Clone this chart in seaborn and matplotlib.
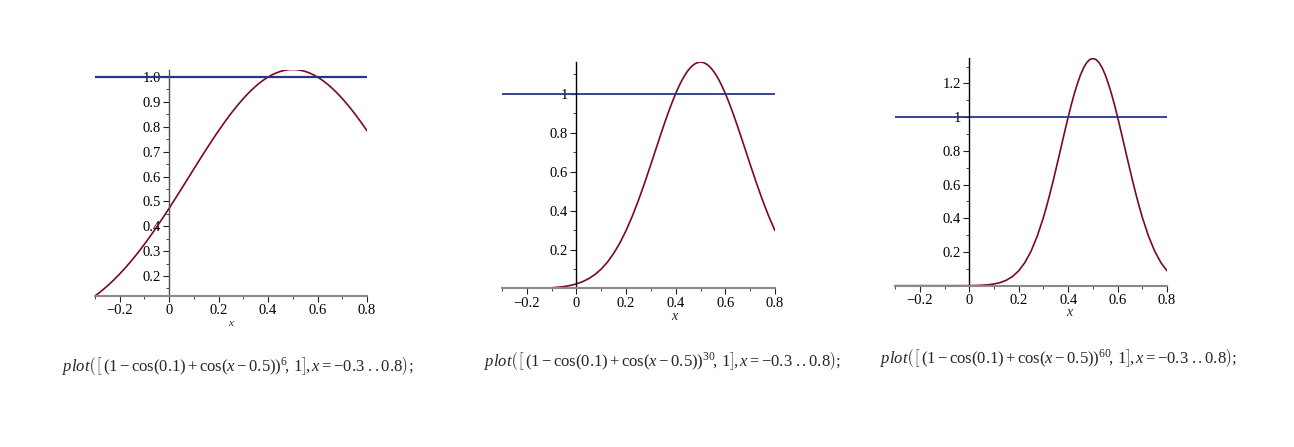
import numpy as np
import matplotlib
matplotlib.use("Agg")
import matplotlib.pyplot as plt
from matplotlib.ticker import FixedLocator, MultipleLocator, FuncFormatter
import seaborn as sns
import pandas as pd

# sample points of the three curves (x = -0.3 .. 0.8),
# denser around the peak
x = [-0.3, -0.275, -0.25, -0.225, -0.2, -0.175, -0.15, -0.125, -0.1, -0.075,
     -0.05, -0.025, 0.0, 0.025, 0.05, 0.075, 0.1, 0.125, 0.15, 0.175,
     0.2, 0.225, 0.25, 0.275, 0.3,
     0.3125, 0.325, 0.3375, 0.35, 0.3625, 0.375, 0.3875, 0.4, 0.4125, 0.425,
     0.4375, 0.45, 0.4625, 0.475, 0.4875, 0.5, 0.5125, 0.525, 0.5375, 0.55,
     0.5625, 0.575, 0.5875, 0.6, 0.6125, 0.625, 0.6375, 0.65, 0.6625, 0.675,
     0.6875,
     0.7, 0.725, 0.75, 0.775, 0.8]

pow6 = [0.1194, 0.1386, 0.1598, 0.1830, 0.2082, 0.2353, 0.2643, 0.2951, 0.3277, 0.3619,
        0.3976, 0.4346, 0.4726, 0.5115, 0.5510, 0.5908, 0.6307, 0.6703, 0.7093, 0.7475,
        0.7844, 0.8198, 0.8533, 0.8847, 0.9137,
        0.9271, 0.9399, 0.9519, 0.9632, 0.9736, 0.9833, 0.9921, 1.0, 1.0070, 1.0132,
        1.0184, 1.0227, 1.0260, 1.0284, 1.0299, 1.0304, 1.0299, 1.0284, 1.0260, 1.0227,
        1.0184, 1.0132, 1.0070, 1.0, 0.9921, 0.9833, 0.9736, 0.9632, 0.9519, 0.9399,
        0.9271,
        0.9137, 0.8847, 0.8533, 0.8198, 0.7844]

pow30 = [0.00002, 0.00005, 0.0001, 0.0002, 0.0004, 0.0007, 0.0013, 0.0022, 0.0038, 0.0062,
         0.0099, 0.0155, 0.0236, 0.0350, 0.0508, 0.0720, 0.0998, 0.1353, 0.1796, 0.2333,
         0.2969, 0.3702, 0.4524, 0.5420, 0.6367,
         0.6850, 0.7335, 0.7816, 0.8290, 0.8750, 0.9191, 0.9610, 1.0, 1.0357, 1.0677,
         1.0954, 1.1187, 1.1371, 1.1505, 1.1586, 1.1613, 1.1586, 1.1505, 1.1371, 1.1187,
         1.0954, 1.0677, 1.0357, 1.0, 0.9610, 0.9191, 0.8750, 0.8290, 0.7816, 0.7335,
         0.6850,
         0.6367, 0.5420, 0.4524, 0.3702, 0.2969]

pow60 = [0.0, 0.0, 0.0, 0.0, 0.0, 0.0, 0.000002, 0.000005, 0.000014, 0.00004,
         0.0001, 0.00024, 0.00056, 0.0012, 0.0026, 0.0052, 0.0100, 0.0183, 0.0322, 0.0544,
         0.0882, 0.1371, 0.2047, 0.2938, 0.4053,
         0.4693, 0.5380, 0.6110, 0.6872, 0.7656, 0.8448, 0.9235, 1.0, 1.0727, 1.1399,
         1.1990, 1.2515, 1.2931, 1.3236, 1.3422, 1.3485, 1.3422, 1.3236, 1.2931, 1.2515,
         1.1990, 1.1399, 1.0727, 1.0, 0.9235, 0.8448, 0.7656, 0.6872, 0.6110, 0.5380,
         0.4693,
         0.4053, 0.2938, 0.2047, 0.1371, 0.0882]

level = 1.0
exponents = ["6", "30", "60"]
xticks = [-0.2, 0, 0.2, 0.4, 0.6, 0.8]
yticks = [[0.2, 0.3, 0.4, 0.5, 0.6, 0.7, 0.8, 0.9, 1.0],
          [0.2, 0.4, 0.6, 0.8, 1.0],
          [0.2, 0.4, 0.6, 0.8, 1.0, 1.2]]
ylabels = [["0.2", "0.3", "0.4", "0.5", "0.6", "0.7", "0.8", "0.9", "1.0"],
           ["0.2", "0.4", "0.6", "0.8", "1"],
           ["0.2", "0.4", "0.6", "0.8", "1", "1.2"]]

sns.set_style("ticks")
plt.rcParams["font.family"] = ["Liberation Serif", "DejaVu Serif"]
plt.rcParams["mathtext.fontset"] = "custom"
plt.rcParams["mathtext.rm"] = "Liberation Serif"
plt.rcParams["mathtext.it"] = "Liberation Serif:italic"
plt.rcParams["axes.unicode_minus"] = True

curve_col = "#7a0a1e"
line_col = "#26358c"

fig = plt.figure(figsize=(12.94, 4.47), dpi=100)

# axes boxes in figure fractions
boxes = [[0.0734, 0.3378, 0.2102, 0.5067],
         [0.3879, 0.3546, 0.2110, 0.5065],
         [0.6917, 0.3609, 0.2102, 0.5083]]
series = [pow6, pow30, pow60]
yminor = [0.05, 0.1, 0.1]
xlab_pos = [(0.50, -0.12), (0.63, -0.125), (0.64, -0.12)]
caption_pos = [(0.184, 0.181), (0.512, 0.193), (0.818, 0.199)]

for i in range(3):
    ax = fig.add_axes(boxes[i])
    df = pd.DataFrame({"x": x, "y": series[i]})
    sns.lineplot(data=df, x="x", y="y", ax=ax, color=curve_col, lw=1.2)
    ax.axhline(level, color=line_col, lw=1.6 if i == 0 else 1.3)
    ax.set_xlim(x[0], x[-1])
    ax.set_ylim(min(series[i]), max(series[i]))

    ax.spines["top"].set_visible(False)
    ax.spines["right"].set_visible(False)
    ax.spines["left"].set_position(("data", 0))
    ax.spines["left"].set_color("#505050" if i == 0 else "black")
    ax.spines["bottom"].set_color("#8a8a8a")
    ax.spines["bottom"].set_linewidth(1.5)
    ax.spines["left"].set_linewidth(1.0)

    ax.xaxis.set_major_locator(FixedLocator(xticks))
    ax.xaxis.set_major_formatter(FuncFormatter(lambda v, p: "0" if abs(v) < 1e-9 else f"{v:.1f}".replace("-", "\u2212")))
    ax.xaxis.set_minor_locator(MultipleLocator(0.1))
    ax.yaxis.set_major_locator(FixedLocator(yticks[i]))
    ax.set_yticklabels(ylabels[i])
    ax.yaxis.set_minor_locator(MultipleLocator(yminor[i]))

    ax.tick_params(axis="both", which="major", length=4, width=0.8, labelsize=10.5,
                   colors="#222222", labelcolor="black", pad=2)
    ax.tick_params(axis="both", which="minor", length=2.5, width=0.7, colors="#444444")
    ax.set_xlabel("")
    ax.set_ylabel("")
    ax.text(xlab_pos[i][0], xlab_pos[i][1], "x", transform=ax.transAxes,
            ha="center", va="center", fontstyle="italic",
            fontsize=8 if i == 0 else 10)

    cap = (r"$\mathit{plot}\left(\left[\,\left(1-\cos(0.1)+\cos(\mathit{x}-0.5)\right)^{"
           + exponents[i] + r"}\!,\,1\right]\!,\mathit{x}=-0.3\ ..0.8\right);$")
    fig.text(caption_pos[i][0], caption_pos[i][1], cap, ha="center", va="center",
             fontsize=12)

fig.savefig("out.png", dpi=100, facecolor="white")
